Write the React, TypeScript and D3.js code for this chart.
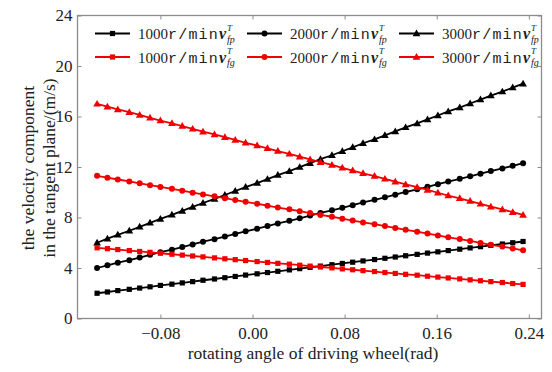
import React, { useRef, useEffect } from 'react';
import * as d3 from 'd3';

// rotating angle (rad)
const angles = [
  -0.135, -0.126, -0.117, -0.107, -0.098, -0.089, -0.080, -0.070, -0.061, -0.052,
  -0.043, -0.033, -0.024, -0.015, -0.006, 0.004, 0.013, 0.022, 0.032, 0.041,
  0.050, 0.059, 0.069, 0.078, 0.087, 0.096, 0.106, 0.115, 0.124, 0.133,
  0.143, 0.152, 0.161, 0.170, 0.180, 0.189, 0.198, 0.207, 0.217, 0.226, 0.235,
];

const vfp1000 = [
  2.00, 2.10, 2.21, 2.31, 2.41, 2.51, 2.62, 2.72, 2.82, 2.92, 3.03, 3.13, 3.23, 3.33,
  3.44, 3.54, 3.64, 3.74, 3.85, 3.95, 4.05, 4.15, 4.26, 4.36, 4.46, 4.56, 4.67, 4.77,
  4.87, 4.97, 5.08, 5.18, 5.28, 5.38, 5.49, 5.59, 5.69, 5.79, 5.90, 6.00, 6.10,
];
const vfp2000 = [
  4.00, 4.21, 4.42, 4.62, 4.83, 5.04, 5.25, 5.45, 5.66, 5.87, 6.08, 6.28, 6.49, 6.70,
  6.91, 7.11, 7.32, 7.53, 7.74, 7.94, 8.15, 8.36, 8.57, 8.77, 8.98, 9.19, 9.40, 9.60,
  9.81, 10.02, 10.23, 10.43, 10.64, 10.85, 11.06, 11.26, 11.47, 11.68, 11.89, 12.09, 12.30,
];
const vfp3000 = [
  6.00, 6.32, 6.63, 6.95, 7.26, 7.58, 7.89, 8.21, 8.52, 8.84, 9.15, 9.47, 9.78, 10.10,
  10.41, 10.73, 11.04, 11.36, 11.67, 11.99, 12.30, 12.62, 12.93, 13.25, 13.56, 13.88, 14.19, 14.51,
  14.82, 15.14, 15.45, 15.77, 16.08, 16.40, 16.71, 17.03, 17.34, 17.66, 17.97, 18.29, 18.60,
];
const vfg1000 = [
  5.60, 5.53, 5.46, 5.38, 5.31, 5.24, 5.17, 5.09, 5.02, 4.95, 4.88, 4.80, 4.73, 4.66,
  4.59, 4.51, 4.44, 4.37, 4.30, 4.22, 4.15, 4.08, 4.01, 3.93, 3.86, 3.79, 3.72, 3.64,
  3.57, 3.50, 3.43, 3.35, 3.28, 3.21, 3.14, 3.06, 2.99, 2.92, 2.85, 2.77, 2.70,
];
const vfg2000 = [
  11.30, 11.15, 11.01, 10.86, 10.71, 10.56, 10.42, 10.27, 10.12, 9.97, 9.83, 9.68, 9.53, 9.38,
  9.24, 9.09, 8.94, 8.79, 8.65, 8.50, 8.35, 8.20, 8.06, 7.91, 7.76, 7.61, 7.47, 7.32,
  7.17, 7.02, 6.88, 6.73, 6.58, 6.43, 6.29, 6.14, 5.99, 5.84, 5.70, 5.55, 5.40,
];
const vfg3000 = [
  17.00, 16.78, 16.56, 16.34, 16.12, 15.90, 15.68, 15.46, 15.24, 15.02, 14.80, 14.58, 14.36, 14.14,
  13.92, 13.70, 13.48, 13.26, 13.04, 12.82, 12.60, 12.38, 12.16, 11.94, 11.72, 11.50, 11.28, 11.06,
  10.84, 10.62, 10.40, 10.18, 9.96, 9.74, 9.52, 9.30, 9.08, 8.86, 8.64, 8.42, 8.20,
];

const xTicks = [-0.08, 0.0, 0.08, 0.16, 0.24];
const yTicks = [0, 4, 8, 12, 16, 20, 24];

const seriesList = [
  { speed: '1000', sub: 'fp', values: vfp1000, color: '#000000', shape: 'square' },
  { speed: '2000', sub: 'fp', values: vfp2000, color: '#000000', shape: 'circle' },
  { speed: '3000', sub: 'fp', values: vfp3000, color: '#000000', shape: 'triangle' },
  { speed: '1000', sub: 'fg', values: vfg1000, color: '#f00000', shape: 'square' },
  { speed: '2000', sub: 'fg', values: vfg2000, color: '#f00000', shape: 'circle' },
  { speed: '3000', sub: 'fg', values: vfg3000, color: '#f00000', shape: 'triangle' },
];

function App() {
  const svgRef = useRef<SVGSVGElement>(null);

  useEffect(() => {
    const width = 552;
    const height = 372;
    const marginLeft = 77.5;
    const marginRight = 10.5;
    const marginTop = 15.5;
    const marginBottom = 53.5;
    const serif = '"Liberation Serif", "Times New Roman", serif';

    const x = d3.scaleLinear()
      .domain([-0.152, 0.251])
      .range([marginLeft, width - marginRight]);
    const y = d3.scaleLinear()
      .domain([0, 24])
      .range([height - marginBottom, marginTop]);

    const svg = d3.select(svgRef.current);
    svg.selectAll('*').remove();
    svg.attr('width', width).attr('height', height).attr('viewBox', [0, 0, width, height].join(' '));

    svg.append('rect').attr('width', width).attr('height', height).attr('fill', '#fff');

    const frameColor = '#8c8c8c';

    // axes with inward ticks
    const axB = svg.append('g')
      .attr('transform', `translate(0,${height - marginBottom})`)
      .call(d3.axisBottom(x).tickValues(xTicks).tickSizeInner(-4).tickSizeOuter(0).tickPadding(8)
        .tickFormat(d => { const v = +d; return v === 0 ? '0.00' : d3.format('.2f')(v).replace('-', '\u2212'); }));
    const axL = svg.append('g')
      .attr('transform', `translate(${marginLeft},0)`)
      .call(d3.axisLeft(y).tickValues(yTicks).tickSizeInner(-4).tickSizeOuter(0).tickPadding(5)
        .tickFormat(d3.format('d')));
    svg.append('g')
      .attr('transform', `translate(0,${marginTop})`)
      .call(d3.axisTop(x).tickValues(xTicks).tickSizeInner(-4).tickSizeOuter(0).tickFormat(() => ''));
    svg.append('g')
      .attr('transform', `translate(${width - marginRight},0)`)
      .call(d3.axisRight(y).tickValues(yTicks).tickSizeInner(-4).tickSizeOuter(0).tickFormat(() => ''));

    svg.selectAll('.domain').remove();
    svg.selectAll('.tick line').attr('stroke', frameColor);
    [axB, axL].forEach(a => a.attr('font-family', serif).attr('font-size', 17)
      .selectAll('text').attr('fill', '#222'));

    svg.append('rect')
      .attr('x', marginLeft).attr('y', marginTop)
      .attr('width', width - marginLeft - marginRight)
      .attr('height', height - marginTop - marginBottom)
      .attr('fill', 'none').attr('stroke', frameColor).attr('stroke-width', 1.3);

    // axis titles
    svg.append('text')
      .attr('x', 313).attr('y', 359)
      .attr('text-anchor', 'middle').attr('font-family', serif).attr('font-size', 17.5).attr('fill', '#222')
      .text('rotating angle of driving wheel(rad)');
    const yMid = 168;
    svg.append('text')
      .attr('transform', `translate(34,${yMid}) rotate(-90)`)
      .attr('text-anchor', 'middle').attr('font-family', serif).attr('font-size', 17.5).attr('fill', '#222')
      .text('the velocity component');
    svg.append('text')
      .attr('transform', `translate(55,${yMid}) rotate(-90)`)
      .attr('text-anchor', 'middle').attr('font-family', serif).attr('font-size', 17.5).attr('fill', '#222')
      .text('in the tangent plane/(m/s)');

    const drawMarker = (g: any, shape: string, color: string, cx: number, cy: number) => {
      if (shape === 'square') {
        g.append('rect').attr('x', cx - 2.6).attr('y', cy - 2.6).attr('width', 5.2).attr('height', 5.2).attr('fill', color);
      } else if (shape === 'circle') {
        g.append('circle').attr('cx', cx).attr('cy', cy).attr('r', 3).attr('fill', color);
      } else {
        g.append('path').attr('d', d3.symbol(d3.symbolTriangle, 26)()).attr('transform', `translate(${cx},${cy + 0.5})`).attr('fill', color);
      }
    };

    const line = d3.line<[number, number]>().x(d => x(d[0])).y(d => y(d[1]));

    seriesList.forEach(s => {
      const pts: [number, number][] = angles.map((a, i) => [a, s.values[i]]);
      const g = svg.append('g');
      g.append('path').datum(pts).attr('d', line).attr('fill', 'none')
        .attr('stroke', s.color).attr('stroke-width', 1.8);
      pts.forEach(p => drawMarker(g, s.shape, s.color, x(p[0]), y(p[1])));
    });

    // legend
    const colX = [95, 247, 399];
    const rowY = [33.5, 57];
    seriesList.forEach((s, i) => {
      const cx = colX[i % 3];
      const cy = rowY[Math.floor(i / 3)];
      const g = svg.append('g');
      g.append('line').attr('x1', cx).attr('x2', cx + 35).attr('y1', cy).attr('y2', cy)
        .attr('stroke', s.color).attr('stroke-width', 1.8);
      drawMarker(g, s.shape, s.color, cx + 17.5, cy);
      const tx = cx + 43;
      const t = g.append('text').attr('x', tx).attr('y', cy + 5.5).attr('font-size', 15).attr('fill', '#222');
      t.append('tspan').attr('font-family', serif).text(s.speed);
      t.append('tspan').attr('font-family', '"Liberation Mono", monospace').attr('letter-spacing', 1.2).text('r/min');
      g.append('text').attr('x', tx + 81).attr('y', cy + 5.5).attr('font-family', serif)
        .attr('font-size', 16).attr('font-style', 'italic').attr('font-weight', 'bold').attr('fill', '#222').text('v');
      g.append('text').attr('x', tx + 89).attr('y', cy - 3).attr('font-family', serif)
        .attr('font-size', 9).attr('font-style', 'italic').attr('fill', '#222').text('T');
      g.append('text').attr('x', tx + 89).attr('y', cy + 9).attr('font-family', serif)
        .attr('font-size', 10).attr('font-style', 'italic').attr('fill', '#222').text(s.sub);
    });
  }, []);

  return (
    <div style={{ position: 'absolute', left: 0, top: 0, width: 552, height: 372 }}>
      <svg ref={svgRef}></svg>
    </div>
  );
}

export default App;
